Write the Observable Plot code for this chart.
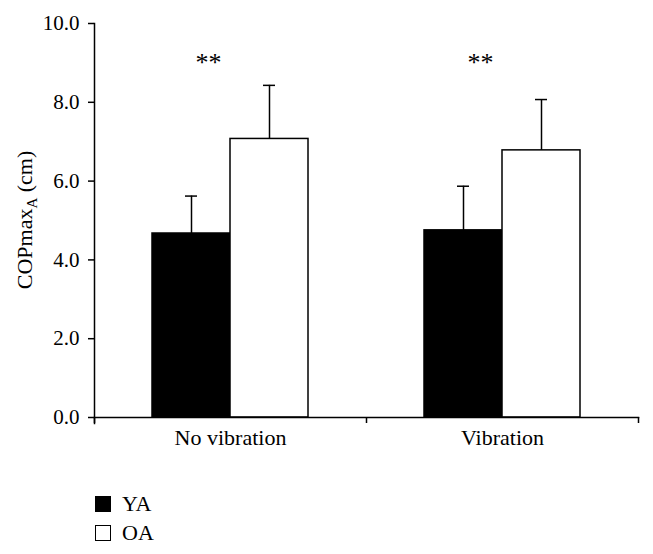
<!DOCTYPE html>
<html><head><meta charset="utf-8">
<script src="https://cdn.jsdelivr.net/npm/d3@7"></script>
<script src="https://cdn.jsdelivr.net/npm/@observablehq/plot@0.6"></script>
<style>
body{margin:0;background:#fff;font-family:"Liberation Serif","DejaVu Serif",serif;color:#000;}
#legend{margin-left:95px;margin-top:29px;}
.item{display:flex;align-items:center;height:29px;font-size:22px;}
.sw{width:16px;height:16px;box-sizing:border-box;border:1.5px solid #000;margin-right:11px;}
</style></head><body>
<div id="chart"></div>
<div id="legend"></div>
<script>
// ---- data ----
const conditions = ["No vibration", "Vibration"];
const groups = ["YA", "OA"];
const groupFill = ["#000", "#fff"];
const yaMean = [4.67, 4.75];
const yaSD = [0.95, 1.12];
const oaMean = [7.07, 6.78];
const oaSD = [1.36, 1.29];
const yTicks = [0, 2, 4, 6, 8, 10];
const sigText = ["**", "**"];
const sigY = [9.0, 9.0];

const rows = [];
conditions.forEach((c, i) => {
  rows.push({condition: c, group: "YA", mean: yaMean[i], sd: yaSD[i]});
  rows.push({condition: c, group: "OA", mean: oaMean[i], sd: oaSD[i]});
});
const sig = conditions.map((c, i) => ({condition: c, text: sigText[i], y: sigY[i]}));

// ---- layout ----
const W = 653, H = 460, ML = 94, MR = 15, MT = 23, MB = 43;
const step = (W - ML - MR) / conditions.length;
const barW = Math.round(step * 0.287);
const capW = 12;
const font = "'Liberation Serif','DejaVu Serif',serif";

const marks = [];
groups.forEach((g, gi) => {
  const data = rows.filter(d => d.group === g);
  const left = gi === 0 ? step / 2 - barW : step / 2;
  const right = gi === 0 ? step / 2 : step / 2 - barW;
  const off = gi === 0 ? -barW / 2 : barW / 2;
  marks.push(Plot.barY(data, {
    x: "condition", y: "mean", fill: groupFill[gi], stroke: "#000", strokeWidth: 1.5,
    insetLeft: left, insetRight: right
  }));
  marks.push(Plot.ruleX(data, {
    x: "condition", y1: "mean", y2: d => d.mean + d.sd, dx: off, stroke: "#000", strokeWidth: 1.5
  }));
  marks.push(Plot.tickY(data, {
    x: "condition", y: d => d.mean + d.sd, dx: off, stroke: "#000", strokeWidth: 1.5,
    insetLeft: step / 2 - capW / 2, insetRight: step / 2 - capW / 2
  }));
});

marks.push(Plot.frame({anchor: "left", stroke: "#000", strokeWidth: 1.5, insetBottom: -6}));
marks.push(Plot.frame({anchor: "bottom", stroke: "#000", strokeWidth: 1.5}));
marks.push(Plot.ruleX(conditions, {x: d => d, y1: 0, y2: 0, dx: -step / 2, insetBottom: -6, stroke: "#000", strokeWidth: 1.5}));
marks.push(Plot.ruleX(conditions.slice(-1), {x: d => d, y1: 0, y2: 0, dx: step / 2, insetBottom: -6, stroke: "#000", strokeWidth: 1.5}));
marks.push(Plot.axisY(yTicks, {tickSize: 6, tickPadding: 9, strokeWidth: 1.5, tickFormat: d => d.toFixed(1), fontSize: 21, label: null}));
marks.push(Plot.axisX({tickSize: 0, tickPadding: 12, fontSize: 22, label: null}));
marks.push(Plot.text(sig, {x: "condition", y: "y", text: "text", dx: -22, fontSize: 26, fill: "#000"}));

const plot = Plot.plot({
  width: W, height: H,
  marginLeft: ML, marginRight: MR, marginTop: MT, marginBottom: MB,
  style: {fontFamily: font, color: "#000", background: "#fff", overflow: "visible"},
  x: {domain: conditions, paddingInner: 0, paddingOuter: 0},
  y: {domain: [0, 10]},
  marks
});
document.getElementById("chart").appendChild(plot);

// y axis title with subscript
const svg = d3.select(plot);
const t = svg.append("text")
  .attr("transform", `translate(32,${(MT + H - MB) / 2}) rotate(-90)`)
  .attr("text-anchor", "middle")
  .attr("font-family", font)
  .attr("font-size", 22)
  .attr("fill", "#000");
t.append("tspan").text("COPmax");
t.append("tspan").attr("font-size", 15).attr("dy", 5).text("A");
t.append("tspan").attr("dy", -5).text(" (cm)");

// legend
const lg = d3.select("#legend");
groups.forEach((g, i) => {
  const it = lg.append("div").attr("class", "item");
  it.append("div").attr("class", "sw").style("background", groupFill[i]);
  it.append("span").text(g);
});
</script>
</body></html>
